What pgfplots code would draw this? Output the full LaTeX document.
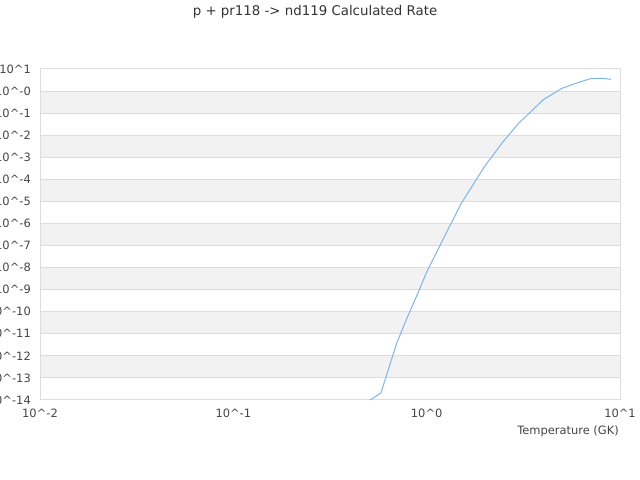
\documentclass[border=0pt]{standalone}
\usepackage{fontspec}
\setmainfont{DejaVu Sans}
\usepackage{pgfplots}
\pgfplotsset{compat=1.18}
\definecolor{titlecol}{HTML}{333333}
\definecolor{labcol}{HTML}{444444}
\definecolor{gridcol}{HTML}{DDDDDD}
\definecolor{band}{HTML}{F2F2F2}
\definecolor{ratecol}{HTML}{7CB5EC}
\begin{document}
\begin{tikzpicture}[x=1bp,y=1bp]
\begin{axis}[
    at={(40bp,80bp)}, anchor=south west,
    scale only axis, width=580bp, height=331bp,
    set layers,
    xmode=log, ymode=log,
    xmin=0.01, xmax=10, ymin=1e-14, ymax=10,
    xtick={0.01,0.1,1,10},
    xticklabels={10\textasciicircum-2,10\textasciicircum-1,10\textasciicircum0,10\textasciicircum1},
    ytick={1e-14,1e-13,1e-12,1e-11,1e-10,1e-9,1e-8,1e-7,1e-6,1e-5,1e-4,1e-3,1e-2,1e-1,1,10},
    yticklabels={10\textasciicircum-14,10\textasciicircum-13,10\textasciicircum-12,10\textasciicircum-11,10\textasciicircum-10,10\textasciicircum-9,10\textasciicircum-8,10\textasciicircum-7,10\textasciicircum-6,10\textasciicircum-5,10\textasciicircum-4,10\textasciicircum-3,10\textasciicircum-2,10\textasciicircum-1,10\textasciicircum-0,10\textasciicircum1},
    xminorticks=false, yminorticks=false,
    major tick length=0pt,
    ymajorgrids, xmajorgrids=false,
    grid style={draw=gridcol, line width=1bp},
    axis line style={draw=gridcol, line width=1bp},
    tick label style={font=\fontsize{11.5}{13}\selectfont, text=labcol},
    xticklabel style={anchor=center, yshift=-13bp},
    yticklabel style={anchor=east, inner sep=0pt, xshift=-9bp},
    xlabel={Temperature (GK)},
    xlabel style={at={(rel axis cs:1,0)}, anchor=east, inner sep=0pt, yshift=-31bp, xshift=-1bp, font=\fontsize{11.5}{13}\selectfont, text=labcol},
    band/.style={fill=band, draw=none, on layer=axis background},
]
\addplot[band] coordinates {(0.01,1e-1) (10,1e-1) (10,1) (0.01,1)} -- cycle;
\addplot[band] coordinates {(0.01,1e-3) (10,1e-3) (10,1e-2) (0.01,1e-2)} -- cycle;
\addplot[band] coordinates {(0.01,1e-5) (10,1e-5) (10,1e-4) (0.01,1e-4)} -- cycle;
\addplot[band] coordinates {(0.01,1e-7) (10,1e-7) (10,1e-6) (0.01,1e-6)} -- cycle;
\addplot[band] coordinates {(0.01,1e-9) (10,1e-9) (10,1e-8) (0.01,1e-8)} -- cycle;
\addplot[band] coordinates {(0.01,1e-11) (10,1e-11) (10,1e-10) (0.01,1e-10)} -- cycle;
\addplot[band] coordinates {(0.01,1e-13) (10,1e-13) (10,1e-12) (0.01,1e-12)} -- cycle;
\addplot[color=ratecol, line width=1bp, mark=none] coordinates {
 (0.5,8.9e-15) (0.58,2.1e-14) (0.7,3.8e-12) (0.8,6.5e-11) (0.9,6.8e-10)
 (1,6.3e-9) (1.5,7.4e-6) (2,4.0e-4) (2.5,5.4e-3) (3,3.6e-2) (3.5,1.29e-1)
 (4,4.0e-1) (5,1.32) (6,2.34) (7,3.6) (8,3.8) (9,3.4)
};
\end{axis}
\node[font=\fontsize{13.4}{16}\selectfont, text=titlecol] at (315,468) {p + pr118 -> nd119 Calculated Rate};
\pgfresetboundingbox
\path[use as bounding box] (0,0) rectangle (640,480);
\end{tikzpicture}
\end{document}
